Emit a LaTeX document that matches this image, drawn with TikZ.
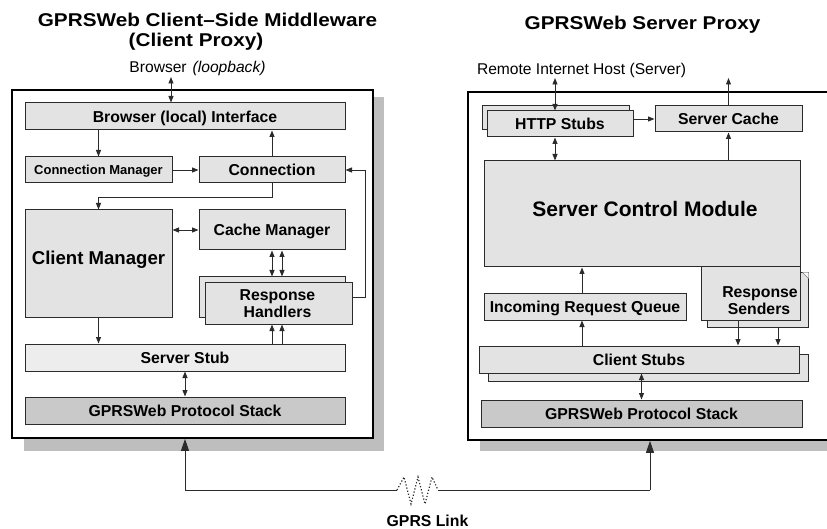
\documentclass[tikz,border=0pt]{standalone}
\usepackage{fontspec}
\setmainfont{Liberation Sans}
\newfontfamily\ttlfont[FakeStretch=1.12]{Liberation Sans}
\usetikzlibrary{arrows.meta}
\definecolor{boxfill}{HTML}{E3E3E3}
\definecolor{stubfill}{HTML}{EDEDED}
\definecolor{stackfill}{HTML}{C9C9C9}
\definecolor{shadowcol}{HTML}{BEBEBE}
\definecolor{lncol}{HTML}{2B2B2B}
\newcommand{\labfont}{\fontsize{15.8pt}{18pt}\selectfont\bfseries}
\newcommand{\plainfont}{\fontsize{15.6pt}{18pt}\selectfont}
\newcommand{\headfont}{\ttlfont\bfseries\fontsize{18.5pt}{21pt}\selectfont}
\begin{document}
\begin{tikzpicture}[x=1pt,y=-1pt,
  >={Triangle[length=6.5pt,width=5pt]},
  box/.style={draw=lncol, fill=boxfill, line width=1pt, inner sep=0pt, font=\labfont, text height=11.3pt, text depth=0pt},
  sz/.style 2 args={minimum width=#1, minimum height=#2},
  outer/.style={draw=black, fill=white, line width=1.7pt, inner sep=0pt},
  wire/.style={draw=lncol, line width=0.9pt},
  txt/.style={inner sep=0pt, anchor=base},
  bigtip/.style={-{Triangle[length=12pt,width=8pt]}}
]
\useasboundingbox (0,0) rectangle (827,529);
\clip (0,0) rectangle (827,529);

% ---------- outer panels with shadows ----------
\fill[shadowcol] (24,97) rectangle (384,451);
\node[outer, sz={361pt}{348pt}] (lo) at (192.5,264) {};
\fill[shadowcol] (480,97) rectangle (870,451);
\node[outer, sz={392pt}{348pt}] (ro) at (664,266) {};

% ---------- titles ----------
\node[txt, font=\headfont] (t1) at (207.5,26.7) {GPRSWeb Client–Side Middleware};
\node[txt, font=\headfont] (t2) at (196,46.5) {(Client Proxy)};
\node[txt, font=\headfont] (t3) at (642.5,29.3) {GPRSWeb Server Proxy};
\node[txt, font=\plainfont] (brw) at (197.5,72.7) {Browser\hspace{6pt}\textit{(loopback)}};
\node[txt, font=\plainfont] (rih) at (581.5,75) {Remote Internet Host (Server)};

% ---------- client side boxes ----------
\node[box, sz={320pt}{27pt}] (bi) at (185,116.5) {Browser (local) Interface};
\node[box, sz={147pt}{26pt}, font=\fontsize{13pt}{15pt}\selectfont\bfseries, text height=9.3pt] (cm) at (98.5,170) {Connection Manager};
\node[box, sz={146pt}{26pt}] (conn) at (272,170) {Connection};
\node[box, sz={147pt}{107pt}] (clm) at (98.5,263.5) {};
\node[txt, font=\fontsize{18.6pt}{21pt}\selectfont\bfseries] (clmt) at (98.5,265) {Client Manager};
\node[box, sz={146pt}{40pt}] (cam) at (272,230) {Cache Manager};
\node[box, sz={146pt}{40pt}] (rhb) at (272,297) {};
\node[box, sz={147pt}{41pt}] (rhf) at (278.5,303.5) {};
\node[txt, font=\labfont] (rht1) at (277.5,300.7) {Response};
\node[txt, font=\labfont] (rht2) at (277.5,317.7) {Handlers};
\node[box, sz={320pt}{27pt}, fill=stubfill] (ss) at (185,357.5) {Server Stub};
\node[box, sz={320pt}{27pt}, fill=stackfill] (ps) at (185,410.5) {GPRSWeb Protocol Stack};

% ---------- client side connectors ----------
\coordinate (bt) at (171,77);
\draw[wire, <->] (bt) -- (bt |- bi.north);
\draw[wire, ->] (bi.south -| cm.north) -- (cm.north);
\draw[wire, ->] (conn.north) -- (conn.north |- bi.south);
\draw[wire, ->] (cm.east) -- (conn.west);
\draw[wire, ->] (conn.south) -- ++(0,14) -| (clm.north);
\draw[wire, <->] (clm.east |- cam.west) -- (cam.west);
\draw[wire, <->] (cam.south) -- (cam.south |- rhb.north);
\draw[wire, <->] ([xshift=10pt]cam.south) -- ([xshift=10pt]cam.south |- rhb.north);
\draw[wire, ->] (cam.south |- ss.north) -- (cam.south |- rhf.south);
\draw[wire, ->] ([xshift=10pt]cam.south |- ss.north) -- ([xshift=10pt]cam.south |- rhf.south);
\draw[wire, ->] (clm.south) -- (clm.south |- ss.north);
\draw[wire, <->] (ss.south) -- (ps.north);
\draw[wire, ->] ([yshift=6.5pt]rhf.east) -- ++(13,0) |- (conn.east);

% ---------- server side boxes ----------
\node[box, sz={147pt}{24pt}] (hb) at (555.5,118) {};
\node[box, sz={146pt}{26pt}] (hf) at (560,124) {HTTP Stubs};
\node[box, sz={147pt}{26pt}] (sc) at (728.5,119) {Server Cache};
\node[box, sz={316pt}{106pt}] (scm) at (642,214) {};
\node[txt, font=\fontsize{21pt}{24pt}\selectfont\bfseries] (scmt) at (645,216.7) {Server Control Module};
\node[box, sz={101pt}{54pt}] (rsb) at (757.5,300) {};
\fill[white] ([xshift=-6pt]rsb.north east) -- (rsb.north east) -- ([yshift=-6pt]rsb.north east) -- cycle;
\draw[gray, line width=0.5pt] ([xshift=-6pt]rsb.north east) -- ([yshift=-6pt]rsb.north east);
\node[box, sz={99pt}{53pt}] (rsf) at (750.5,293.5) {};
\node[txt, font=\labfont] (rst1) at (760,297.3) {Response};
\node[txt, font=\labfont] (rst2) at (759,314.3) {Senders};
\node[box, sz={202pt}{26pt}] (irq) at (585,307) {Incoming Request Queue};
\node[box, sz={320pt}{27pt}] (csb) at (648,367.5) {};
\node[box, sz={320pt}{27pt}] (csf) at (639,359.5) {Client Stubs};
\node[box, sz={321pt}{27pt}, fill=stackfill] (ps2) at (641.5,413.5) {GPRSWeb Protocol Stack};

% ---------- server side connectors ----------
\coordinate (rt1) at (555,78);
\coordinate (rt2) at (728.5,78);
\draw[wire, <->] (rt1) -- (rt1 |- hf.north);
\draw[wire, ->] (sc.north) -- (rt2);
\draw[wire, ->] (hf.east |- sc.west) -- (sc.west);
\draw[wire, <->] (rt1 |- hf.south) -- (rt1 |- scm.north);
\draw[wire, ->] (scm.north -| sc.south) -- (sc.south);
\draw[wire, ->] ([xshift=-3pt]irq.north) -- ([xshift=-3pt]irq.north |- scm.south);
\draw[wire, ->] ([xshift=-3pt]irq.south |- csf.north) -- ([xshift=-3pt]irq.south);
\draw[wire, ->] ([xshift=-12.5pt]rsf.south) -- ([xshift=-12.5pt]rsf.south |- csf.north);
\draw[wire, ->] ([xshift=20.5pt]rsb.south) -- ([xshift=20.5pt]rsb.south |- csf.north);
\draw[wire, <->] (csf.south -| ps2.north) -- (ps2.north);

% ---------- GPRS link ----------
\coordinate (la) at (185,490);
\coordinate (ra) at (650,490);
\coordinate (z1) at (397,490);
\coordinate (z2) at (438,490);
\draw[wire, bigtip] (la) -- (la |- lo.south);
\draw[wire, bigtip] (ra) -- (ra |- ro.south);
\draw[wire] (la) -- (z1);
\draw[wire] (z2) -- (ra);
\draw[wire, line width=1.2pt, dotted] (z1) -- (404,477) -- (411,504) -- (418,477) -- (425,504) -- (432,477) -- (z2);
\node[txt, font=\labfont] (gl) at (427.5,526.7) {GPRS Link};
\end{tikzpicture}
\end{document}
